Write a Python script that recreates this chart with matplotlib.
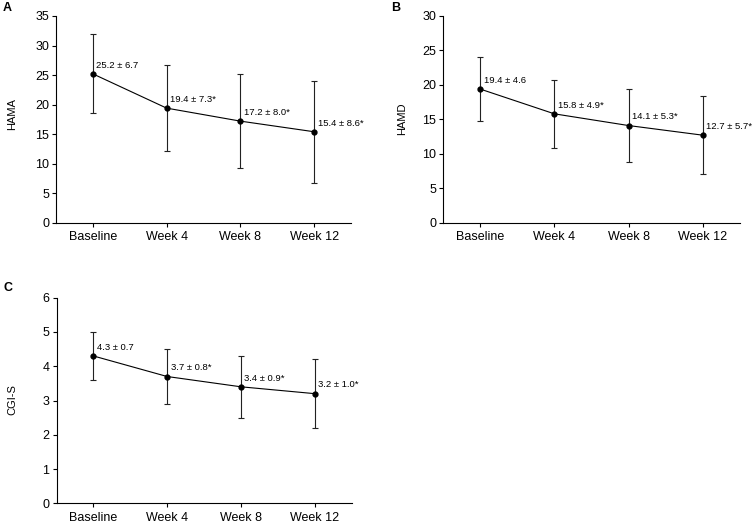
import matplotlib
matplotlib.use("Agg")
import matplotlib.pyplot as plt

plt.rcParams['font.family'] = ['Liberation Sans', 'DejaVu Sans']

timepoints = ["Baseline", "Week 4", "Week 8", "Week 12"]

hama_mean = [25.2, 19.4, 17.2, 15.4]
hama_sd = [6.7, 7.3, 8.0, 8.6]
hama_labels = ["25.2 \u00b1 6.7", "19.4 \u00b1 7.3*", "17.2 \u00b1 8.0*", "15.4 \u00b1 8.6*"]

hamd_mean = [19.4, 15.8, 14.1, 12.7]
hamd_sd = [4.6, 4.9, 5.3, 5.7]
hamd_labels = ["19.4 \u00b1 4.6", "15.8 \u00b1 4.9*", "14.1 \u00b1 5.3*", "12.7 \u00b1 5.7*"]

cgi_mean = [4.3, 3.7, 3.4, 3.2]
cgi_sd = [0.7, 0.8, 0.9, 1.0]
cgi_labels = ["4.3 \u00b1 0.7", "3.7 \u00b1 0.8*", "3.4 \u00b1 0.9*", "3.2 \u00b1 1.0*"]

W, H = 752, 522
fig = plt.figure(figsize=(W / 100, H / 100), dpi=100)


def px_axes(left, top, right, bottom):
    return fig.add_axes([left / W, 1 - bottom / H, (right - left) / W, (bottom - top) / H])


def panel(ax, mean, sd, labels, ylim, yticks):
    x = list(range(len(timepoints)))
    ax.errorbar(x, mean, yerr=sd, fmt='o-', color='black', ecolor='#222222',
                elinewidth=0.8, lw=0.8, capsize=2.5, capthick=0.8, markersize=3.5)
    for xi, yi, lab in zip(x, mean, labels):
        ax.annotate(lab, (xi, yi), xytext=(2.5, 3), textcoords='offset points',
                    fontsize=6.8, ha='left', va='bottom')
    ax.set_xlim(-0.5, 3.5)
    ax.set_ylim(*ylim)
    ax.set_yticks(yticks)
    ax.set_xticks(x)
    ax.set_xticklabels(timepoints)
    for s in ['top', 'right']:
        ax.spines[s].set_visible(False)
    for s in ['left', 'bottom']:
        ax.spines[s].set_linewidth(0.8)
    ax.tick_params(axis='both', labelsize=9, length=3, width=0.8, direction='out')
    ax.tick_params(axis='y', pad=2)
    ax.tick_params(axis='x', pad=3)


axA = px_axes(56, 16, 351, 222.7)
panel(axA, hama_mean, hama_sd, hama_labels, (0, 35), range(0, 36, 5))
axB = px_axes(443, 16, 740, 222.7)
panel(axB, hamd_mean, hamd_sd, hamd_labels, (0, 30), range(0, 31, 5))
axC = px_axes(56.5, 297.7, 351.5, 503.3)
panel(axC, cgi_mean, cgi_sd, cgi_labels, (0, 6), range(0, 7))

fig.text(12.5 / W, 1 - 114 / H, "HAMA", rotation=90, ha='center', va='center', fontsize=8)
fig.text(402 / W, 1 - 119 / H, "HAMD", rotation=90, ha='center', va='center', fontsize=8)
fig.text(12.5 / W, 1 - 400 / H, "CGI-S", rotation=90, ha='center', va='center', fontsize=8)

fig.text(3 / W, 1 - 2 / H, "A", fontsize=9, fontweight='bold', ha='left', va='top')
fig.text(391 / W, 1 - 2 / H, "B", fontsize=9, fontweight='bold', ha='left', va='top')
fig.text(4 / W, 1 - 282 / H, "C", fontsize=9, fontweight='bold', ha='left', va='top')

fig.savefig("out.png", dpi=100)
